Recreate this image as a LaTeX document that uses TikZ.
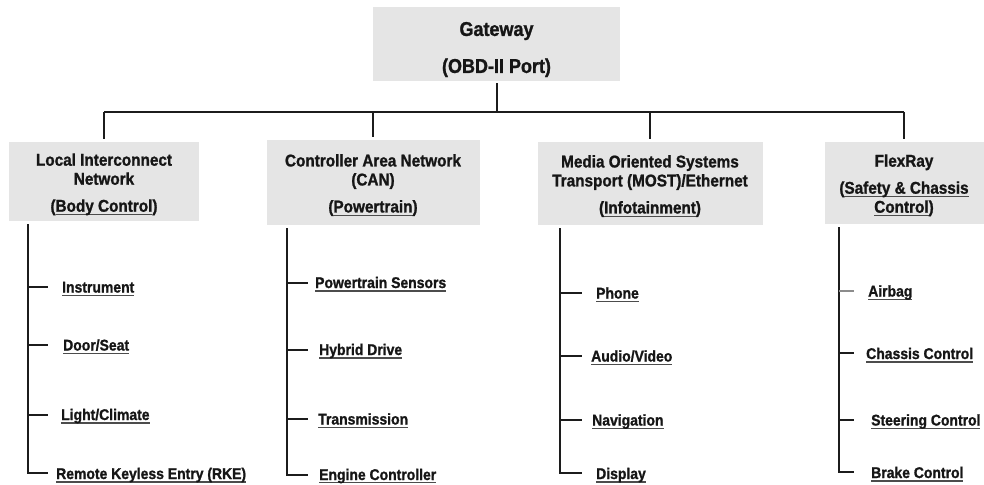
\documentclass[tikz,border=0pt]{standalone}
\usepackage{fontspec}
\setmainfont{Liberation Sans}[FakeStretch=0.9, BoldFeatures={FakeBold=1.2}]
\definecolor{boxgray}{RGB}{229,229,229}
\definecolor{lncol}{RGB}{28,28,28}
\definecolor{txtcol}{RGB}{22,22,22}
\newsavebox{\ulbox}
\newcommand{\uln}[2][3.6pt]{\sbox{\ulbox}{#2}\rlap{\textcolor{black!70}{\rule[-#1]{\wd\ulbox}{1.2pt}}}\usebox{\ulbox}}
\newcommand{\topx}[1]{\rule{0pt}{#1}}
\begin{document}
\begin{tikzpicture}[x=1pt,y=-1pt,
  box/.style={fill=boxgray, draw=none, align=center, inner sep=0pt, text=txtcol,
              font=\fontsize{17}{19}\selectfont\bfseries},
  item/.style={anchor=base west, inner sep=0pt, text=txtcol,
               font=\fontsize{15.5}{18}\selectfont\bfseries},
  ln/.style={draw=lncol, line width=2pt},
  itemtick/.style={draw=lncol, line width=2pt}]
\useasboundingbox (0,0) rectangle (984,484);

% top node
\node[box, minimum width=247pt, minimum height=74pt, font=\fontsize{20}{24}\selectfont\bfseries]
  (gw) at (496.5,44) {\topx{25pt}Gateway\\[13pt](OBD-II Port)};

% network boxes
\node[box, minimum width=190pt, minimum height=79pt] (lin) at (104,181.5)
  {\topx{18pt}Local Interconnect\\Network\\[8pt](\uln{Body Control})};
\node[box, minimum width=213pt, minimum height=85pt] (can) at (373,182.5)
  {\topx{17.5pt}Controller Area Network\\(CAN)\\[8pt](\uln{Powertrain})};
\node[box, minimum width=225pt, minimum height=83pt] (most) at (650,183.5)
  {\topx{17.5pt}Media Oriented Systems\\Transport (MOST)/Ethernet\\[8pt](\uln{Infotainment})};
\node[box, minimum width=159pt, minimum height=82pt] (fr) at (904,183)
  {\topx{17pt}FlexRay\\[8pt](\uln{Safety \& Chassis}\\\uln{Control})};

% bus
\coordinate (bus) at (0,112);
\coordinate (gwx) at (497,0);
\draw[ln, shorten <=2pt] (gw.south -| gwx) -- (gwx |- bus);
\draw[ln] (lin.north |- bus) -- (fr.north |- bus);
\foreach \n in {lin,can,most,fr}
  \draw[ln, shorten >=3pt] (\n.north |- bus) -- (\n.north);

% trunk x positions
\coordinate (Lx) at (28,0);
\coordinate (Cx) at (287,0);
\coordinate (Mx) at (560,0);
\coordinate (Fx) at (839,0);

% items: LIN
\node[item] (L1) at (62,292.5) {\uln{Instrument}};
\node[item] (L2) at (63,350.5) {\uln{Door/Seat}};
\node[item] (L3) at (61,420) {\uln{Light/Climate}};
\node[item] (L4) at (56,479) {\uln{Remote Keyless Entry (RKE)}};
\coordinate (L1t) at (48,287);
\coordinate (L2t) at (48,345);
\coordinate (L3t) at (48,415);
\coordinate (L4t) at (48,473);
\draw[ln, shorten <=3pt] (lin.south -| Lx) -- (Lx |- L4t) -- (L4t);
\draw[itemtick] (Lx |- L1t) -- (L1t);
\draw[itemtick] (Lx |- L2t) -- (L2t);
\draw[itemtick] (Lx |- L3t) -- (L3t);

% items: CAN
\node[item] (C1) at (315,288) {\uln{Powertrain Sensors}};
\node[item] (C2) at (319,355) {\uln{Hybrid Drive}};
\node[item] (C3) at (318,424.5) {\uln{Transmission}};
\node[item] (C4) at (319,480) {\uln[3.2pt]{Engine Controller}};
\coordinate (C1t) at (308,283);
\coordinate (C2t) at (308,350);
\coordinate (C3t) at (308,419);
\coordinate (C4t) at (308,475);
\draw[ln, shorten <=3pt] (can.south -| Cx) -- (Cx |- C4t) -- (C4t);
\draw[itemtick] (Cx |- C1t) -- (C1t);
\draw[itemtick] (Cx |- C2t) -- (C2t);
\draw[itemtick] (Cx |- C3t) -- (C3t);

% items: MOST
\node[item] (M1) at (596,298.5) {\uln{Phone}};
\node[item] (M2) at (591,361.5) {\uln{Audio/Video}};
\node[item] (M3) at (592,425.5) {\uln{Navigation}};
\node[item] (M4) at (596,479) {\uln{Display}};
\coordinate (M1t) at (582,293);
\coordinate (M2t) at (582,356);
\coordinate (M3t) at (582,420);
\coordinate (M4t) at (582,473);
\draw[ln, shorten <=3pt] (most.south -| Mx) -- (Mx |- M4t) -- (M4t);
\draw[itemtick] (Mx |- M1t) -- (M1t);
\draw[itemtick] (Mx |- M2t) -- (M2t);
\draw[itemtick] (Mx |- M3t) -- (M3t);

% items: FlexRay
\node[item] (F1) at (868,296.5) {\uln{Airbag}};
\node[item] (F2) at (866,359) {\uln{Chassis Control}};
\node[item] (F3) at (871,425.5) {\uln{Steering Control}};
\node[item] (F4) at (871,478) {\uln{Brake Control}};
\coordinate (F1t) at (854,291);
\coordinate (F2t) at (854,353);
\coordinate (F3t) at (854,420);
\coordinate (F4t) at (854,472);
\draw[ln, shorten <=3pt] (fr.south -| Fx) -- (Fx |- F4t) -- (F4t);
\draw[itemtick, draw=black!45] (Fx |- F1t) -- (F1t);
\draw[itemtick] (Fx |- F2t) -- (F2t);
\draw[itemtick] (Fx |- F3t) -- (F3t);
\end{tikzpicture}
\end{document}
